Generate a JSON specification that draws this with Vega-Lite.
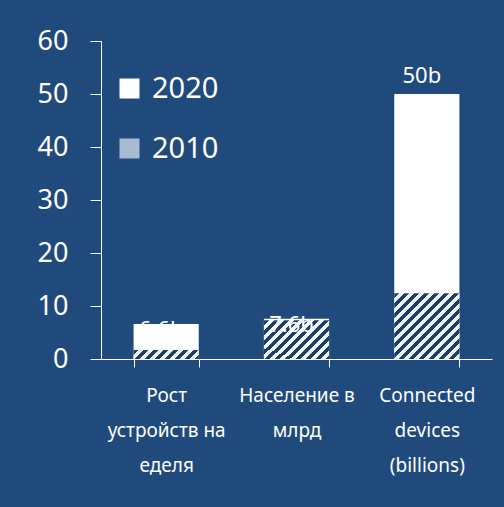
{
  "$schema": "https://vega.github.io/schema/vega-lite/v6.json",
  "autosize": "none",
  "width": 391,
  "height": 318,
  "padding": {"left": 101, "top": 41, "right": 12, "bottom": 148},
  "background": "#214a7c",
  "config": {"view": {"stroke": null}, "font": "Noto Sans"},
  "data": {"values": [
    {"cat": "Рост устройств на еделя", "year": "2020", "value": 6.6, "label": "6.6b"},
    {"cat": "Население в млрд", "year": "2020", "value": 7.6, "label": "7.6b"},
    {"cat": "Connected devices (billions)", "year": "2020", "value": 50, "label": "50b"},
    {"cat": "Рост устройств на еделя", "year": "2010", "value": 1.7},
    {"cat": "Население в млрд", "year": "2010", "value": 7.3},
    {"cat": "Connected devices (billions)", "year": "2010", "value": 12.4}
  ]},
  "encoding": {
    "x": {
      "field": "cat", "type": "nominal", "sort": null,
      "scale": {"paddingInner": 0.5, "paddingOuter": 0.25},
      "axis": {
        "title": null, "labelAngle": 0, "domainColor": "#ffffff", "tickColor": "#ffffff",
        "tickBand": "extent", "tickSize": 8, "labelColor": "#ffffff", "labelFontSize": 19,
        "labelFont": "Noto Sans", "labelPadding": 19, "labelLineHeight": 35, "labelLimit": 0,
        "labelExpr": "datum.value == 'Рост устройств на еделя' ? ['Рост', 'устройств на', 'еделя'] : datum.value == 'Население в млрд' ? ['Население в', 'млрд'] : datum.value == 'Connected devices (billions)' ? ['Connected', 'devices', '(billions)'] : ''"
      }
    },
    "y": {
      "field": "value", "type": "quantitative", "stack": null,
      "scale": {"domain": [0, 60], "nice": false},
      "axis": {
        "title": null, "values": [0, 10, 20, 30, 40, 50, 60], "grid": false,
        "tickSize": 11, "labelPadding": 22, "labelFontSize": 27, "labelFont": "Noto Sans",
        "labelColor": "#ffffff", "domainColor": "#ffffff", "tickColor": "#ffffff"
      }
    }
  },
  "layer": [
    {
      "transform": [{"filter": "datum.year == '2020'"}],
      "mark": {"type": "bar"},
      "encoding": {
        "color": {
          "field": "year", "type": "nominal",
          "scale": {"domain": ["2020", "2010"], "range": ["#ffffff", "#a9bbd1"]},
          "legend": {
            "title": null, "orient": "none", "legendX": 14, "legendY": 33,
            "symbolType": "square", "symbolSize": 400, "symbolStrokeWidth": 0,
            "labelFontSize": 29, "labelFont": "Noto Sans", "labelColor": "#ffffff",
            "rowPadding": 30, "labelOffset": 8
          }
        }
      }
    },
    {
      "transform": [{"filter": "datum.year == '2010' && datum.cat == 'Рост устройств на еделя'"}],
      "mark": {"type": "bar", "fill": {"gradient": "linear", "x1": 0, "y1": 0, "x2": 1.117, "y2": 0.155, "stops": [
        {"offset": 0, "color": "#1f3d66"}, {"offset": 0.0676, "color": "#1f3d66"},
        {"offset": 0.0676, "color": "#eef8fc"}, {"offset": 0.1351, "color": "#eef8fc"},
        {"offset": 0.1351, "color": "#1f3d66"}, {"offset": 0.2027, "color": "#1f3d66"},
        {"offset": 0.2027, "color": "#eef8fc"}, {"offset": 0.2703, "color": "#eef8fc"},
        {"offset": 0.2703, "color": "#1f3d66"}, {"offset": 0.3378, "color": "#1f3d66"},
        {"offset": 0.3378, "color": "#eef8fc"}, {"offset": 0.4054, "color": "#eef8fc"},
        {"offset": 0.4054, "color": "#1f3d66"}, {"offset": 0.473, "color": "#1f3d66"},
        {"offset": 0.473, "color": "#eef8fc"}, {"offset": 0.5405, "color": "#eef8fc"},
        {"offset": 0.5405, "color": "#1f3d66"}, {"offset": 0.6081, "color": "#1f3d66"},
        {"offset": 0.6081, "color": "#eef8fc"}, {"offset": 0.6757, "color": "#eef8fc"},
        {"offset": 0.6757, "color": "#1f3d66"}, {"offset": 0.7432, "color": "#1f3d66"},
        {"offset": 0.7432, "color": "#eef8fc"}, {"offset": 0.8108, "color": "#eef8fc"},
        {"offset": 0.8108, "color": "#1f3d66"}, {"offset": 0.8784, "color": "#1f3d66"},
        {"offset": 0.8784, "color": "#eef8fc"}, {"offset": 0.9459, "color": "#eef8fc"},
        {"offset": 0.9459, "color": "#1f3d66"}, {"offset": 1, "color": "#1f3d66"}
      ]}},
      "encoding": {}
    },
    {
      "transform": [{"filter": "datum.year == '2010' && datum.cat == 'Население в млрд'"}],
      "mark": {"type": "bar", "fill": {"gradient": "linear", "x1": 0, "y1": 0, "x2": 1.1765, "y2": 0.7059, "stops": [
        {"offset": 0, "color": "#1f3d66"}, {"offset": 0.0481, "color": "#1f3d66"},
        {"offset": 0.0481, "color": "#eef8fc"}, {"offset": 0.0962, "color": "#eef8fc"},
        {"offset": 0.0962, "color": "#1f3d66"}, {"offset": 0.1442, "color": "#1f3d66"},
        {"offset": 0.1442, "color": "#eef8fc"}, {"offset": 0.1923, "color": "#eef8fc"},
        {"offset": 0.1923, "color": "#1f3d66"}, {"offset": 0.2404, "color": "#1f3d66"},
        {"offset": 0.2404, "color": "#eef8fc"}, {"offset": 0.2885, "color": "#eef8fc"},
        {"offset": 0.2885, "color": "#1f3d66"}, {"offset": 0.3365, "color": "#1f3d66"},
        {"offset": 0.3365, "color": "#eef8fc"}, {"offset": 0.3846, "color": "#eef8fc"},
        {"offset": 0.3846, "color": "#1f3d66"}, {"offset": 0.4327, "color": "#1f3d66"},
        {"offset": 0.4327, "color": "#eef8fc"}, {"offset": 0.4808, "color": "#eef8fc"},
        {"offset": 0.4808, "color": "#1f3d66"}, {"offset": 0.5288, "color": "#1f3d66"},
        {"offset": 0.5288, "color": "#eef8fc"}, {"offset": 0.5769, "color": "#eef8fc"},
        {"offset": 0.5769, "color": "#1f3d66"}, {"offset": 0.625, "color": "#1f3d66"},
        {"offset": 0.625, "color": "#eef8fc"}, {"offset": 0.6731, "color": "#eef8fc"},
        {"offset": 0.6731, "color": "#1f3d66"}, {"offset": 0.7212, "color": "#1f3d66"},
        {"offset": 0.7212, "color": "#eef8fc"}, {"offset": 0.7692, "color": "#eef8fc"},
        {"offset": 0.7692, "color": "#1f3d66"}, {"offset": 0.8173, "color": "#1f3d66"},
        {"offset": 0.8173, "color": "#eef8fc"}, {"offset": 0.8654, "color": "#eef8fc"},
        {"offset": 0.8654, "color": "#1f3d66"}, {"offset": 0.9135, "color": "#1f3d66"},
        {"offset": 0.9135, "color": "#eef8fc"}, {"offset": 0.9615, "color": "#eef8fc"},
        {"offset": 0.9615, "color": "#1f3d66"}, {"offset": 1, "color": "#1f3d66"}
      ]}},
      "encoding": {}
    },
    {
      "transform": [{"filter": "datum.year == '2010' && datum.cat == 'Connected devices (billions)'"}],
      "mark": {"type": "bar", "fill": {"gradient": "linear", "x1": 0, "y1": 0, "x2": 0.995, "y2": 1.005, "stops": [
        {"offset": 0, "color": "#1f3d66"}, {"offset": 0.0383, "color": "#1f3d66"},
        {"offset": 0.0383, "color": "#eef8fc"}, {"offset": 0.0765, "color": "#eef8fc"},
        {"offset": 0.0765, "color": "#1f3d66"}, {"offset": 0.1148, "color": "#1f3d66"},
        {"offset": 0.1148, "color": "#eef8fc"}, {"offset": 0.153, "color": "#eef8fc"},
        {"offset": 0.153, "color": "#1f3d66"}, {"offset": 0.1913, "color": "#1f3d66"},
        {"offset": 0.1913, "color": "#eef8fc"}, {"offset": 0.2296, "color": "#eef8fc"},
        {"offset": 0.2296, "color": "#1f3d66"}, {"offset": 0.2678, "color": "#1f3d66"},
        {"offset": 0.2678, "color": "#eef8fc"}, {"offset": 0.3061, "color": "#eef8fc"},
        {"offset": 0.3061, "color": "#1f3d66"}, {"offset": 0.3443, "color": "#1f3d66"},
        {"offset": 0.3443, "color": "#eef8fc"}, {"offset": 0.3826, "color": "#eef8fc"},
        {"offset": 0.3826, "color": "#1f3d66"}, {"offset": 0.4209, "color": "#1f3d66"},
        {"offset": 0.4209, "color": "#eef8fc"}, {"offset": 0.4591, "color": "#eef8fc"},
        {"offset": 0.4591, "color": "#1f3d66"}, {"offset": 0.4974, "color": "#1f3d66"},
        {"offset": 0.4974, "color": "#eef8fc"}, {"offset": 0.5356, "color": "#eef8fc"},
        {"offset": 0.5356, "color": "#1f3d66"}, {"offset": 0.5739, "color": "#1f3d66"},
        {"offset": 0.5739, "color": "#eef8fc"}, {"offset": 0.6122, "color": "#eef8fc"},
        {"offset": 0.6122, "color": "#1f3d66"}, {"offset": 0.6504, "color": "#1f3d66"},
        {"offset": 0.6504, "color": "#eef8fc"}, {"offset": 0.6887, "color": "#eef8fc"},
        {"offset": 0.6887, "color": "#1f3d66"}, {"offset": 0.7269, "color": "#1f3d66"},
        {"offset": 0.7269, "color": "#eef8fc"}, {"offset": 0.7652, "color": "#eef8fc"},
        {"offset": 0.7652, "color": "#1f3d66"}, {"offset": 0.8035, "color": "#1f3d66"},
        {"offset": 0.8035, "color": "#eef8fc"}, {"offset": 0.8417, "color": "#eef8fc"},
        {"offset": 0.8417, "color": "#1f3d66"}, {"offset": 0.88, "color": "#1f3d66"},
        {"offset": 0.88, "color": "#eef8fc"}, {"offset": 0.9182, "color": "#eef8fc"},
        {"offset": 0.9182, "color": "#1f3d66"}, {"offset": 0.9565, "color": "#1f3d66"},
        {"offset": 0.9565, "color": "#eef8fc"}, {"offset": 0.9948, "color": "#eef8fc"},
        {"offset": 0.9948, "color": "#1f3d66"}, {"offset": 1, "color": "#1f3d66"}
      ]}},
      "encoding": {}
    },
    {
      "transform": [{"filter": "datum.year == '2020' && datum.cat == 'Connected devices (billions)'"}],
      "mark": {"type": "text", "dx": -5, "dy": -11, "baseline": "alphabetic", "fontSize": 22, "font": "Noto Sans", "color": "#ffffff"},
      "encoding": {"text": {"field": "label"}}
    },
    {
      "transform": [{"filter": "datum.year == '2020' && datum.cat != 'Connected devices (billions)'"}],
      "mark": {"type": "text", "dx": -5, "dy": 13, "baseline": "alphabetic", "fontSize": 22, "font": "Noto Sans", "color": "#ffffff"},
      "encoding": {"text": {"field": "label"}}
    }
  ]
}
